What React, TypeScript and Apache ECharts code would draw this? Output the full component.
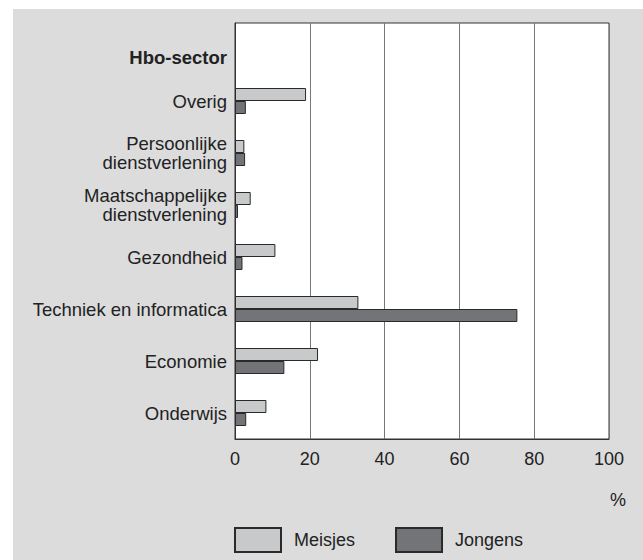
import React, { useEffect, useRef } from "react";
import * as echarts from "echarts";

const categories = [
  "Hbo-sector",
  "Overig",
  "Persoonlijke\ndienstverlening",
  "Maatschappelijke\ndienstverlening",
  "Gezondheid",
  "Techniek en informatica",
  "Economie",
  "Onderwijs",
];
const meisjes = [null, 19, 2.5, 4.2, 10.8, 33, 22.2, 8.4];
const jongens = [null, 2.9, 2.7, 0.8, 2.0, 75.5, 13.2, 3.0];
const xTicks = [0, 20, 40, 60, 80, 100];

export default function App() {
  const ref = useRef<HTMLDivElement>(null);
  useEffect(() => {
    const chart = echarts.init(ref.current!, null, { renderer: "svg" });
    const font = "Liberation Sans, Arial, sans-serif";
    const fs = 18;
    const yfs = 18.5;
    chart.setOption({
      animation: false,
      textStyle: { fontFamily: font },
      graphic: [
        {
          type: "rect",
          z: -10,
          shape: { x: 13, y: 9, width: 630, height: 551 },
          style: { fill: "#dcdcdd" },
        },
        {
          type: "text",
          x: 618,
          y: 500,
          style: {
            text: "%",
            fontSize: fs,
            fontFamily: font,
            fill: "#222",
            align: "center",
            verticalAlign: "middle",
          },
        },
      ],
      legend: {
        left: 234,
        top: 527,
        padding: 0,
        itemWidth: 46,
        itemHeight: 24,
        itemGap: 40,
        icon: "rect",
        textStyle: { fontSize: fs, color: "#222", fontFamily: font, padding: [0, 0, 0, 8] },
        data: ["Meisjes", "Jongens"],
      },
      grid: {
        left: 235,
        top: 23,
        width: 374,
        height: 416,
        show: true,
        backgroundColor: "#ffffff",
        borderColor: "#333",
        borderWidth: 1,
      },
      xAxis: {
        type: "value",
        min: 0,
        max: 100,
        interval: 20,
        axisLine: { show: true, lineStyle: { color: "#333" } },
        axisTick: { show: false },
        splitLine: { show: true, lineStyle: { color: "#777", width: 1 } },
        axisLabel: {
          fontSize: fs,
          color: "#222",
          margin: 11,
          formatter: (v: number) => (xTicks.includes(v) ? String(v) : ""),
        },
      },
      yAxis: {
        type: "category",
        inverse: true,
        data: categories,
        axisLine: { show: true, lineStyle: { color: "#333" } },
        axisTick: { show: false },
        axisLabel: {
          fontSize: yfs,
          color: "#222",
          margin: 8,
          lineHeight: 19,
          align: "right",
          formatter: (v: string) => (v === "Hbo-sector" ? "{b|" + v + "}" : v),
          rich: {
            b: { fontWeight: "bold", fontSize: yfs, color: "#222", padding: [16, 0, 0, 0], fontFamily: font },
          },
        },
      },
      series: [
        {
          name: "Meisjes",
          type: "bar",
          data: meisjes,
          barWidth: 13,
          barGap: "0%",
          itemStyle: { color: "#c8c9ca", borderColor: "#2a2a2a", borderWidth: 1 },
        },
        {
          name: "Jongens",
          type: "bar",
          data: jongens,
          barWidth: 13,
          barGap: "0%",
          itemStyle: { color: "#737478", borderColor: "#2a2a2a", borderWidth: 1 },
        },
      ],
    });
    return () => chart.dispose();
  }, []);
  return (
    <div
      ref={ref}
      style={{ position: "absolute", left: 0, top: 0, width: 643, height: 560 }}
    />
  );
}
